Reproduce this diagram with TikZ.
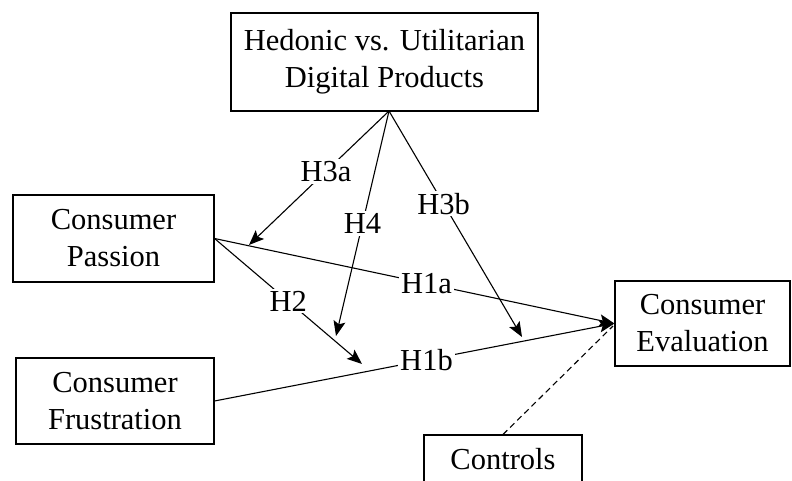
\documentclass[tikz,border=0pt]{standalone}
\usepackage{fontspec}
\setmainfont{Liberation Serif}
\usetikzlibrary{arrows.meta,positioning}

\begin{document}
\begin{tikzpicture}[x=1pt,y=-1pt,->,>={Stealth[length=15pt,width=12pt,inset=3pt]},line width=1.1pt,
                    varbox/.style={rectangle, draw=black, fill=white, align=center, inner sep=0pt,
                                   font=\fontsize{30.5}{37}\selectfont},
                    hyplabel/.style={fill=white, inner sep=2pt, font=\fontsize{30.5}{37}\selectfont}]
      \useasboundingbox (0,0) rectangle (792,481);

      \node[varbox, minimum width=307pt, minimum height=98pt] (hedonic) at (384.5,62)    {Hedonic vs. Utilitarian\\Digital Products};
      \node[varbox, minimum width=201pt, minimum height=87pt] (passion) at (113.5,238.5) {Consumer\\Passion};
      \node[varbox, minimum width=198pt, minimum height=86pt] (frust)   at (115,401)     {Consumer\\Frustration};
      \node[varbox, minimum width=175pt, minimum height=85pt] (eval)    at (702.5,323.5) {Consumer\\Evaluation};
      \node[varbox, minimum width=158pt, minimum height=48pt] (ctrl)    at (503,459)     {Controls};

      \coordinate (apex) at (389,111);
      \coordinate (h3aend) at (249,245);
      \coordinate (h3bend) at (522,337);
      \coordinate (h2end) at (362,364);
      \coordinate (h4end) at (336,336);
      \coordinate (ctrlend) at (613,326);

      \draw (passion.east) -- node[hyplabel, pos=0.53] {H1a} (eval.west);
      \draw (frust.east)   -- node[hyplabel, pos=0.53] {H1b} (eval.west);
      \draw (passion.east) -- node[hyplabel, pos=0.5]  {H2}  (h2end);
      \draw (apex) -- node[hyplabel, pos=0.45] {H3a} (h3aend);
      \draw (apex) -- node[hyplabel, pos=0.41] {H3b} (h3bend);
      \draw (apex) -- node[hyplabel, pos=0.5]  {H4}  (h4end);
      \draw[-, dashed, dash pattern=on 6pt off 4pt] (ctrl.north) -- (ctrlend);
\end{tikzpicture}
\end{document}
